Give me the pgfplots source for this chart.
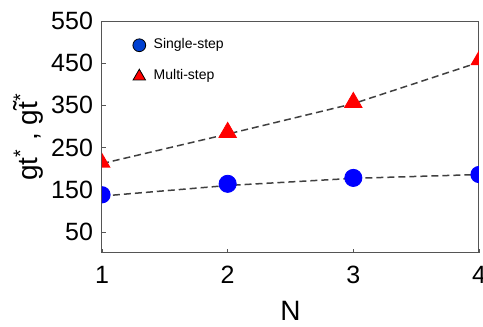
\documentclass[border=0pt]{standalone}
\usepackage{pgfplots}
\pgfplotsset{compat=1.18}
\usepackage{fontspec}
\setmainfont{Liberation Sans}
\definecolor{fitgray}{HTML}{404040}
\definecolor{framegray}{HTML}{555555}
\definecolor{legblue}{HTML}{0040D0}
% half marks for points that sit on the left or right frame line
\pgfdeclareplotmark{rhalfdisc}{%
  \pgfpathmoveto{\pgfqpoint{0pt}{\pgfplotmarksize}}%
  \pgfpatharc{90}{-90}{\pgfplotmarksize}%
  \pgfpathclose\pgfusepathqfill}
\pgfdeclareplotmark{lhalfdisc}{%
  \pgfpathmoveto{\pgfqpoint{0pt}{\pgfplotmarksize}}%
  \pgfpatharc{90}{270}{\pgfplotmarksize}%
  \pgfpathclose\pgfusepathqfill}
\pgfdeclareplotmark{rhalftri}{%
  \pgfpathmoveto{\pgfqpointpolar{90}{\pgfplotmarksize}}%
  \pgfpathlineto{\pgfqpointpolar{-30}{\pgfplotmarksize}}%
  \pgfpathlineto{\pgfqpoint{0pt}{-0.5\pgfplotmarksize}}%
  \pgfpathclose\pgfusepathqfill}
\pgfdeclareplotmark{lhalftri}{%
  \pgfpathmoveto{\pgfqpointpolar{90}{\pgfplotmarksize}}%
  \pgfpathlineto{\pgfqpointpolar{210}{\pgfplotmarksize}}%
  \pgfpathlineto{\pgfqpoint{0pt}{-0.5\pgfplotmarksize}}%
  \pgfpathclose\pgfusepathqfill}
\begin{document}
\begin{tikzpicture}
\begin{axis}[
  scale only axis,
  width=188.5pt, height=116pt,
  xmin=1, xmax=4, ymin=0, ymax=550,
  xtick={1,2,3,4},
  ytick={50,150,250,350,450,550},
  xtick pos=bottom, ytick pos=left,
  tick align=inside,
  major tick length=2pt,
  tick style={framegray, line width=0.4pt},
  axis line style={framegray, line width=0.5pt},
  /pgf/number format/assume math mode=true,
  ticklabel style={font=\fontsize{12.5}{14}\selectfont},
  xticklabel style={yshift=-3pt},
  yticklabel style={xshift=-1pt},
  xlabel={N},
  ylabel={gt\textsuperscript{*} , g\~{t}\textsuperscript{*}},
  label style={font=\fontsize{14}{16}\selectfont},
  xlabel style={yshift=-2pt},
  ylabel style={yshift=-3pt},
  legend style={draw=none, fill=none, at={(0.065,0.96)}, anchor=north west,
    font=\fontsize{7}{8}\selectfont, row sep=5pt,
    legend cell align=left,
    nodes={inner xsep=4pt}},
]
% legend symbols: filled markers with a dark outline
\addlegendimage{only marks, mark=*, mark size=3.2pt, mark options={fill=legblue, draw=black, line width=0.4pt}}
\addlegendentry{Single-step}
\addlegendimage{only marks, mark=triangle*, mark size=3.6pt, mark options={fill=red, draw=black, line width=0.4pt}}
\addlegendentry{Multi-step}
% dashed guide lines joining the points
\addplot[fitgray, line width=0.75pt, dash pattern=on 3.5pt off 2pt, forget plot]
  coordinates {(1,135) (2,160) (3,177) (4,186)};
\addplot[fitgray, line width=0.75pt, dash pattern=on 3.5pt off 2pt, forget plot]
  coordinates {(1,212) (2,282) (3,354) (4,452)};
% Single-step
\addplot[only marks, mark=*, mark size=4.3pt, mark options={fill=blue, draw=blue}, forget plot]
  coordinates {(2,164) (3,178)};
\addplot[only marks, mark=rhalfdisc, mark size=4.3pt, mark options={fill=blue}, forget plot]
  coordinates {(1,138)};
\addplot[only marks, mark=lhalfdisc, mark size=4.3pt, mark options={fill=blue}, forget plot]
  coordinates {(4,186)};
% Multi-step
\addplot[only marks, mark=triangle*, mark size=5pt, mark options={fill=red, draw=red}, forget plot]
  coordinates {(2,286) (3,357)};
\addplot[only marks, mark=rhalftri, mark size=5pt, mark options={fill=red}, forget plot]
  coordinates {(1,214)};
\addplot[only marks, mark=lhalftri, mark size=5pt, mark options={fill=red}, forget plot]
  coordinates {(4,457)};
\end{axis}
\pgfresetboundingbox
\useasboundingbox ([shift={(-51pt,-37pt)}]current axis.south west)
  rectangle ([shift={(2pt,10.5pt)}]current axis.north east);
\end{tikzpicture}
\end{document}
